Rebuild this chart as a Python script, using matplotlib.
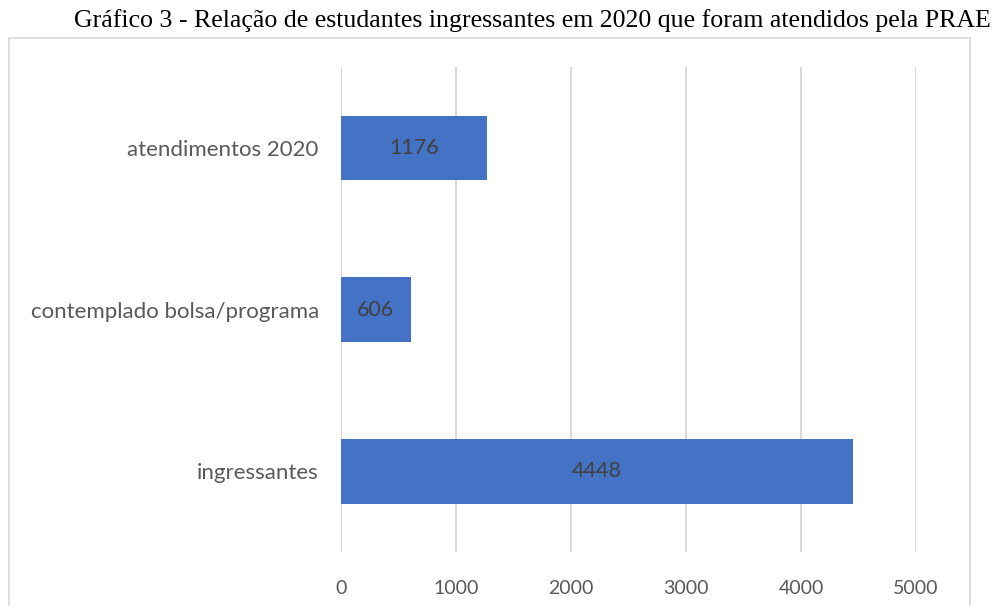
import matplotlib.pyplot as plt
from matplotlib.patches import Rectangle

# data (bottom to top)
categorias = ['ingressantes', 'contemplado bolsa/programa', 'atendimentos 2020']
valores_barra = [4448, 606, 1270]     # bar lengths as drawn
rotulos = ['4448', '606', '1176']     # data labels as printed
ticks_x = [0, 1000, 2000, 3000, 4000, 5000]

plt.rcParams['font.family'] = ['Lato', 'DejaVu Sans']

fig = plt.figure(figsize=(9.93, 6.06), dpi=100)
W, H = 993, 606
ax = fig.add_axes([341 / W, 1 - 552 / H, (916 - 341) / W, (552 - 67) / H])

ax.barh(range(len(categorias)), valores_barra, height=0.4, color='#4472C4', zorder=3)
for i, (v, r) in enumerate(zip(valores_barra, rotulos)):
    ax.text(v / 2, i, r, ha='center', va='center', fontsize=15.5, color='#404040', zorder=4)

ax.set_xlim(0, 5000)
ax.set_ylim(-0.5, 2.5)
ax.set_xticks(ticks_x)
ax.set_xticklabels([str(t) for t in ticks_x])
ax.set_yticks(range(len(categorias)))
ax.set_yticklabels(categorias)
ax.tick_params(axis='x', length=0, pad=20, labelsize=14, labelcolor='#595959')
ax.tick_params(axis='y', length=0, pad=16, labelsize=16, labelcolor='#595959')
ax.grid(axis='x', color='#D9D9D9', linewidth=1.5, zorder=0)
for s in ax.spines.values():
    s.set_visible(False)

# chart area border
fig.patches.append(Rectangle((9 / W, -0.05), (970 - 9) / W, 1 - 38 / H + 0.05,
                             transform=fig.transFigure, fill=False,
                             edgecolor='#D9D9D9', linewidth=1.2))

fig.text(532 / W, 1 - 21 / H, 'Gráfico 3 - Relação de estudantes ingressantes em 2020 que foram atendidos pela PRAE',
         ha='center', va='center', fontsize=18.6, family='Liberation Serif', color='black')

fig.savefig('out.png', dpi=100)
